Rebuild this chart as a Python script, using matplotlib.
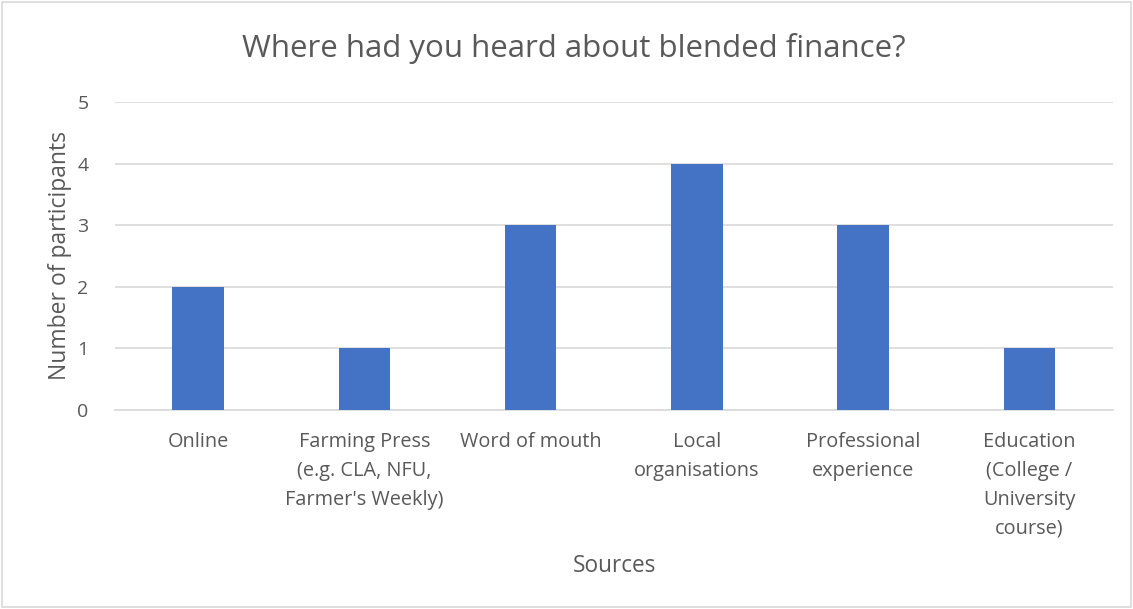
import matplotlib.pyplot as plt

categories = ["Online", "Farming Press\n(e.g. CLA, NFU,\nFarmer's Weekly)", "Word of mouth",
              "Local\norganisations", "Professional\nexperience",
              "Education\n(College /\nUniversity\ncourse)"]
participants = [2, 1, 3, 4, 3, 1]
y_ticks = [0, 1, 2, 3, 4, 5]

plt.rcParams['font.family'] = ['Open Sans', 'DejaVu Sans']
text_col = '#595959'

fig = plt.figure(figsize=(11.33, 6.09), dpi=100)
ax = fig.add_axes([0.1015, 0.3268, 0.8805, 0.5057])

x = range(len(categories))
ax.bar(x, participants, width=0.31, color='#4472C4', zorder=3)

ax.set_xlim(-0.5, len(categories) - 0.5)
ax.set_ylim(0, 5)
ax.set_yticks(y_ticks)
ax.set_xticks(list(x))
ax.set_xticklabels(categories, fontsize=14.3, color=text_col, va='top', linespacing=1.58)
ax.tick_params(axis='y', labelsize=14, labelcolor=text_col, length=0, pad=19)
ax.tick_params(axis='x', length=0, pad=16)
ax.grid(axis='y', color='#D9D9D9', linewidth=1.2, zorder=0)
for s in ['top', 'right', 'left']:
    ax.spines[s].set_visible(False)
ax.spines['bottom'].set_color('#D9D9D9')
ax.spines['bottom'].set_linewidth(1.2)

fig.text(574 / 1133, 1 - 48 / 609, "Where had you heard about blended finance?",
         ha='center', va='center', fontsize=22.5, color=text_col)
fig.text(60 / 1133, 1 - 255 / 609, "Number of participants", rotation=90,
         ha='center', va='center', fontsize=16.5, color=text_col)
fig.text(614 / 1133, 1 - 566 / 609, "Sources", ha='center', va='center', fontsize=16.3, color=text_col)

# light border round the chart
fig.patches.append(plt.Rectangle((0.002, 0.003), 0.996, 0.994, transform=fig.transFigure,
                                 fill=False, edgecolor='#D9D9D9', linewidth=1.2))

fig.savefig('out.png', dpi=100)
